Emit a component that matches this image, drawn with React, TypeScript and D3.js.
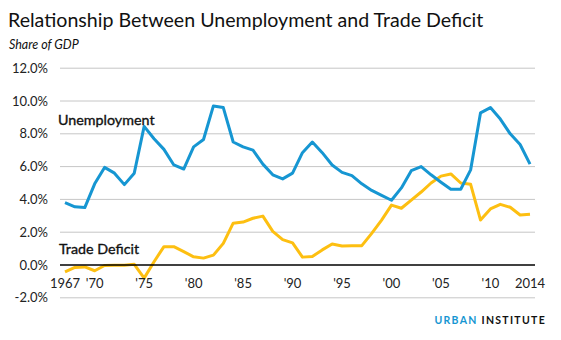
import React from "react";
import * as d3 from "d3";

const years: number[] = d3.range(1967, 2015);
const unemployment: number[] = [
  3.8, 3.55, 3.5, 4.95, 5.95, 5.6, 4.9, 5.6, 8.45, 7.7, 7.05, 6.1, 5.85, 7.2, 7.65, 9.7, 9.6,
  7.5, 7.2, 7.0, 6.15, 5.5, 5.25, 5.6, 6.85, 7.5, 6.85, 6.1, 5.65, 5.45, 4.95, 4.55, 4.25, 3.95,
  4.7, 5.75, 6.0, 5.5, 5.05, 4.62, 4.62, 5.8, 9.28, 9.6, 8.9, 8.0, 7.35, 6.15,
];
const tradeDeficit: number[] = [
  -0.42, -0.15, -0.12, -0.35, -0.03, -0.02, -0.01, 0.04, -0.8, 0.2, 1.12, 1.12, 0.82, 0.5, 0.42,
  0.6, 1.32, 2.55, 2.62, 2.85, 2.98, 2.05, 1.55, 1.35, 0.48, 0.52, 0.92, 1.28, 1.16, 1.18, 1.18,
  1.93, 2.74, 3.65, 3.46, 3.96, 4.45, 5.0, 5.42, 5.55, 5.0, 4.92, 2.74, 3.42, 3.7, 3.52, 3.05, 3.1,
];
const yTicks: number[] = [-2, 0, 2, 4, 6, 8, 10, 12];
const xTickYears: number[] = [1967, 1970, 1975, 1980, 1985, 1990, 1995, 2000, 2005, 2010, 2014];
const xTickLabels: string[] = ["1967", "'70", "'75", "'80", "'85", "'90", "'95", "'00", "'05", "'10", "2014"];

const BLUE = "#1696d2";
const YELLOW = "#fdbf11";
const FONT = "Lato, 'Open Sans', sans-serif";

export default function App() {
  const W = 561;
  const H = 340;
  const x = d3.scaleLinear().domain([1967, 2014]).range([65, 530]);
  const y = d3.scaleLinear().domain([-2, 12]).range([297.8, 68.2]);
  const gridX0 = 60;
  const gridX1 = 535;

  const line = d3
    .line<number>()
    .x((_, i) => x(years[i]))
    .y((d) => y(d));

  return (
    <div style={{ position: "absolute", left: 0, top: 0 }}>
      <svg width={W} height={H} style={{ display: "block", background: "#fff" }} fontFamily={FONT}>
        <text x={8} y={26.5} fontSize={19.6} fill="#111">
          Relationship Between Unemployment and Trade Deficit
        </text>
        <text x={9} y={49} fontSize={12.5} fontStyle="italic" fill="#111">
          Share of GDP
        </text>

        {yTicks.map((t) => (
          <g key={t}>
            {t !== 0 && (
              <line x1={gridX0} x2={gridX1} y1={y(t)} y2={y(t)} stroke="#c6c6c6" strokeWidth={1} />
            )}
            <text x={48} y={y(t)} dy="0.35em" textAnchor="end" fontSize={13} fill="#222">
              {t.toFixed(1) + "%"}
            </text>
          </g>
        ))}

        <path d={line(tradeDeficit) || ""} fill="none" stroke={YELLOW} strokeWidth={3} strokeLinejoin="round" />
        <path d={line(unemployment) || ""} fill="none" stroke={BLUE} strokeWidth={3} strokeLinejoin="round" />

        <line x1={gridX0} x2={gridX1} y1={y(0)} y2={y(0)} stroke="#000" strokeWidth={1.5} />

        {xTickYears.map((yr, i) => (
          <text key={yr} x={x(yr)} y={288} textAnchor="middle" fontSize={13} fill="#222">
            {xTickLabels[i]}
          </text>
        ))}

        <text x={58} y={125} fontSize={14.3} fill="#111" stroke="#111" strokeWidth={0.35}>
          Unemployment
        </text>
        <text x={59} y={254} fontSize={14.3} fill="#111" stroke="#111" strokeWidth={0.35}>
          Trade Deficit
        </text>

        <text x={546} y={324} textAnchor="end" fontSize={10.5} fontWeight={700} letterSpacing={1.3}>
          <tspan fill={BLUE}>URBAN </tspan>
          <tspan fill="#111">INSTITUTE</tspan>
        </text>
      </svg>
    </div>
  );
}
